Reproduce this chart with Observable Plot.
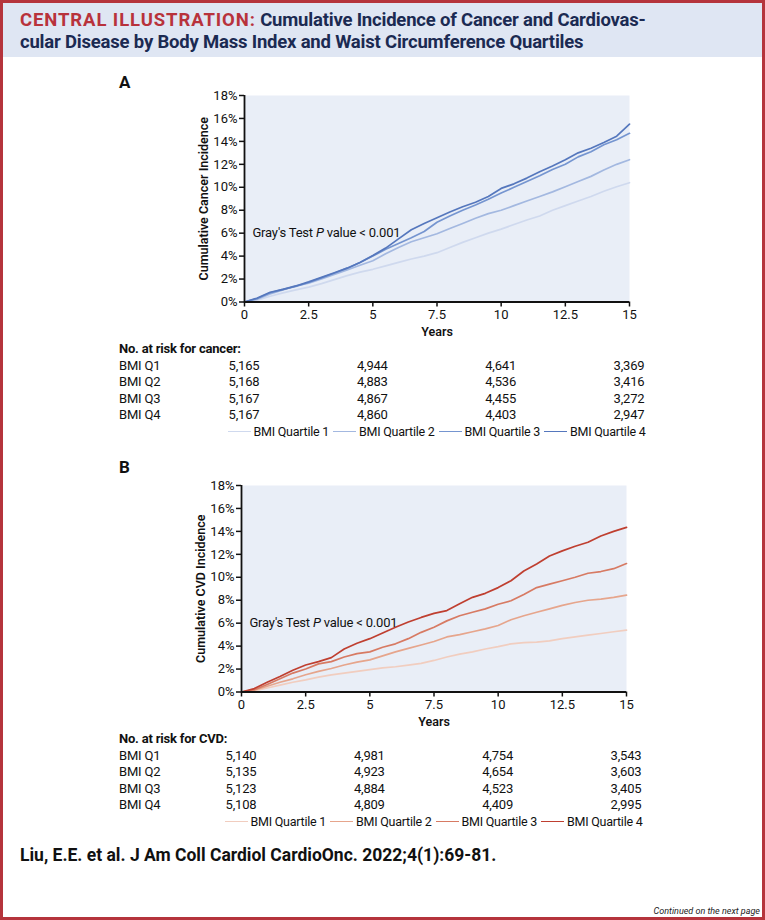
<!DOCTYPE html>
<html>
<head>
<meta charset="utf-8">
<script src="https://cdn.jsdelivr.net/npm/d3@7"></script>
<script src="https://cdn.jsdelivr.net/npm/@observablehq/plot@0.6"></script>
<style>
  html, body { margin: 0; padding: 0; background: #fff; }
  #page { position: relative; width: 765px; height: 920px; background: #fff; overflow: hidden; font-family: Roboto, "Noto Sans", sans-serif; color: #111; }
  .abs { position: absolute; }
  .cell { position: absolute; width: 80px; text-align: center; font-size: 13px; line-height: 16px; white-space: nowrap; letter-spacing: -0.2px; }
  .rowlab { position: absolute; font-size: 13px; line-height: 16px; white-space: nowrap; letter-spacing: -0.2px; }
  .legend { position: absolute; width: 560px; display: flex; justify-content: center; align-items: center; font-size: 12.5px; line-height: 16px; white-space: nowrap; letter-spacing: -0.25px; }
  .legend .item { display: flex; align-items: center; margin: 0 2px; }
  .legend .sw { display: inline-block; width: 23px; height: 1.6px; margin-right: 3px; }
  svg.chart text { font-family: Roboto, "Noto Sans", sans-serif; }
</style>
</head>
<body>
<div id="page">
  <div class="abs" style="left:0;top:0;width:765px;height:57px;background:#dfe6f3;"></div>
  <div class="abs" style="left:20px;top:9px;font-size:18.5px;font-weight:700;line-height:22px;color:#1b2a52;white-space:nowrap;letter-spacing:-0.2px;">
    <span style="color:#b8323b;letter-spacing:0.9px;">CENTRAL ILLUSTRATION:</span> Cumulative Incidence of Cancer and Cardiovas-<br>cular Disease by Body Mass Index and Waist Circumference Quartiles
  </div>
  <div class="abs" style="left:119px;top:72px;font-size:17px;font-weight:700;line-height:20px;">A</div>
  <div class="abs" style="left:119px;top:457px;font-size:17px;font-weight:700;line-height:20px;">B</div>
  <div class="abs" style="left:20px;top:844px;font-size:17.5px;font-weight:700;line-height:22px;color:#111;white-space:nowrap;">Liu, E.E. et al. J Am Coll Cardiol CardioOnc. 2022;4(1):69-81.</div>
  <div class="abs" style="right:5px;top:906px;font-size:9px;font-style:italic;line-height:11px;color:#222;">Continued on the next page</div>
  <div class="abs" style="left:0;top:0;width:765px;height:920px;border:3px solid #b5343c;box-sizing:border-box;pointer-events:none;z-index:10;"></div>
</div>
<script>
// ---------- data ----------
const years = [0,0.5,1,1.5,2,2.5,3,3.5,4,4.5,5,5.5,6,6.5,7,7.5,8,8.5,9,9.5,10,10.5,11,11.5,12,12.5,13,13.5,14,14.5,15];
const quartiles = ["BMI Quartile 1","BMI Quartile 2","BMI Quartile 3","BMI Quartile 4"];

// Cumulative cancer incidence (%)
const cancerQ1 = [0,0.15,0.5,0.8,1.05,1.3,1.6,1.95,2.3,2.6,2.85,3.15,3.45,3.75,4.0,4.3,4.75,5.2,5.6,6.0,6.35,6.75,7.15,7.5,8.0,8.4,8.8,9.2,9.65,10.05,10.4];
const cancerQ2 = [0,0.25,0.7,1.05,1.4,1.65,2.0,2.4,2.8,3.2,3.6,4.2,4.75,5.25,5.6,5.95,6.4,6.85,7.3,7.7,8.0,8.4,8.8,9.2,9.6,10.05,10.5,10.95,11.5,12.0,12.4];
const cancerQ3 = [0,0.3,0.8,1.1,1.35,1.7,2.1,2.5,2.95,3.45,4.0,4.6,5.1,5.6,6.15,6.95,7.5,8.0,8.45,8.95,9.5,10.0,10.5,11.0,11.55,12.0,12.65,13.1,13.7,14.15,14.7];
const cancerQ4 = [0,0.35,0.85,1.1,1.4,1.75,2.15,2.55,2.95,3.45,4.05,4.7,5.5,6.3,6.85,7.35,7.85,8.3,8.7,9.2,9.9,10.3,10.8,11.35,11.85,12.4,13.0,13.4,13.9,14.45,15.5];

// Cumulative CVD incidence (%)
const cvdQ1 = [0,0.1,0.35,0.6,0.85,1.05,1.3,1.5,1.65,1.8,1.95,2.1,2.2,2.35,2.5,2.75,3.05,3.3,3.5,3.75,3.95,4.2,4.3,4.35,4.45,4.65,4.8,4.95,5.1,5.25,5.4];
const cvdQ2 = [0,0.15,0.5,0.85,1.15,1.5,1.8,2.05,2.35,2.6,2.8,3.15,3.5,3.8,4.1,4.4,4.8,5.0,5.25,5.5,5.8,6.3,6.65,6.95,7.25,7.55,7.8,8.0,8.1,8.25,8.45];
const cvdQ3 = [0,0.2,0.65,1.15,1.65,2.0,2.45,2.65,3.05,3.35,3.5,3.9,4.2,4.65,5.2,5.65,6.2,6.65,6.95,7.25,7.65,7.95,8.5,9.1,9.4,9.7,10.0,10.35,10.5,10.75,11.2];
const cvdQ4 = [0,0.3,0.85,1.35,1.9,2.35,2.65,3.0,3.75,4.25,4.65,5.15,5.65,6.1,6.5,6.85,7.1,7.7,8.25,8.6,9.1,9.7,10.55,11.15,11.85,12.3,12.7,13.05,13.6,14.0,14.35];

// Numbers at risk
const riskYears = [0,5,10,15];
const riskLabels = ["BMI Q1","BMI Q2","BMI Q3","BMI Q4"];
const cancerRiskQ1 = [5165,4944,4641,3369];
const cancerRiskQ2 = [5168,4883,4536,3416];
const cancerRiskQ3 = [5167,4867,4455,3272];
const cancerRiskQ4 = [5167,4860,4403,2947];
const cvdRiskQ1 = [5140,4981,4754,3543];
const cvdRiskQ2 = [5135,4923,4654,3603];
const cvdRiskQ3 = [5123,4884,4523,3405];
const cvdRiskQ4 = [5108,4809,4409,2995];

const xTicks = [0,2.5,5,7.5,10,12.5,15];
const yTicks = [0,2,4,6,8,10,12,14,16,18];
const annotation = [{x: 0.33, y: 6, text: "Gray's Test <i>P</i> value &lt; 0.001"}];

const blues = ["#cfd9ee","#a3b8e0","#7595d0","#5577bd"];
const reds  = ["#f1cdbf","#e6a58c","#d77a63","#bf3f30"];

// ---------- helpers ----------
const page = document.getElementById("page");
function toRows(series) {
  const rows = [];
  series.forEach((vals, i) => vals.forEach((v, j) => rows.push({t: years[j], v, q: quartiles[i]})));
  return rows;
}
function el(cls, style, html) {
  const d = document.createElement("div");
  d.className = cls; d.style.cssText = style; d.innerHTML = html;
  page.appendChild(d); return d;
}

function panel({series, colors, ylabel, top, marginLeft, marginRight, riskTitle, risk, tableTop}) {
  const chart = Plot.plot({
    width: 765, height: 287,
    marginTop: 35, marginBottom: 45.5, marginLeft, marginRight,
    className: "chart",
    style: "background: transparent; font-family: Roboto, 'Noto Sans', sans-serif; font-size: 13px; color: #111; overflow: visible;",
    x: {domain: [0, 15]},
    y: {domain: [0, 18]},
    color: {domain: quartiles, range: colors},
    marks: [
      Plot.frame({fill: "#e9eef7", stroke: null}),
      Plot.line(toRows(series), {x: "t", y: "v", z: "q", stroke: "q", strokeWidth: 1.7}),
      Plot.axisX({ticks: xTicks, tickFormat: d => String(d), tickSize: 5, tickPadding: 3, label: null, strokeWidth: 1.5, fontSize: 13}),
      Plot.axisY({ticks: yTicks, tickFormat: d => d + "%", tickSize: 5, tickPadding: 2, label: null, strokeWidth: 1.5, fontSize: 13}),
      Plot.ruleX([0], {stroke: "#111", strokeWidth: 1.8}),
      Plot.ruleY([0], {stroke: "#111", strokeWidth: 1.8}),
      Plot.text([ylabel], {text: d => d, frameAnchor: "left", textAnchor: "middle", lineAnchor: "middle", rotate: -90, dx: -41, fontWeight: 600, fontSize: 12.5}),
      Plot.text(["Years"], {text: d => d, frameAnchor: "bottom", textAnchor: "middle", lineAnchor: "middle", dy: 30, fontWeight: 600, fontSize: 12.5})
    ]
  });
  chart.style.position = "absolute";
  chart.style.left = "0px";
  chart.style.top = top + "px";
  page.appendChild(chart);

  const xs = chart.scale("x"), ys = chart.scale("y");
  const X = t => xs.apply(t);
  const Y = v => top + ys.apply(v);

  annotation.forEach(a => {
    el("abs", `left:${X(a.x)}px;top:${Y(a.y) - 8}px;font-size:13px;line-height:16px;white-space:nowrap;letter-spacing:-0.2px;`, a.text);
  });

  const step = 16.5;
  el("rowlab", `left:119px;top:${tableTop - 8}px;font-weight:700;`, riskTitle);
  risk.forEach((vals, i) => {
    const cy = tableTop + step * (i + 1);
    el("rowlab", `left:119px;top:${cy - 8}px;`, riskLabels[i]);
    vals.forEach((v, j) => {
      el("cell", `left:${X(riskYears[j]) - 40}px;top:${cy - 8}px;`, d3.format(",")(v));
    });
  });
  const ly = tableTop + step * 5;
  const cx = (X(0) + X(15)) / 2;
  const leg = el("legend", `left:${cx - 280}px;top:${ly - 8}px;`, "");
  quartiles.forEach((q, i) => {
    leg.innerHTML += `<span class="item"><span class="sw" style="background:${colors[i]}"></span>${q}</span>`;
  });
}

panel({
  series: [cancerQ1, cancerQ2, cancerQ3, cancerQ4], colors: blues,
  ylabel: "Cumulative Cancer Incidence", top: 60, marginLeft: 244, marginRight: 136,
  riskTitle: "No. at risk for cancer:",
  risk: [cancerRiskQ1, cancerRiskQ2, cancerRiskQ3, cancerRiskQ4], tableTop: 349
});
panel({
  series: [cvdQ1, cvdQ2, cvdQ3, cvdQ4], colors: reds,
  ylabel: "Cumulative CVD Incidence", top: 450, marginLeft: 241, marginRight: 139,
  riskTitle: "No. at risk for CVD:",
  risk: [cvdRiskQ1, cvdRiskQ2, cvdRiskQ3, cvdRiskQ4], tableTop: 739
});
</script>
</body>
</html>
